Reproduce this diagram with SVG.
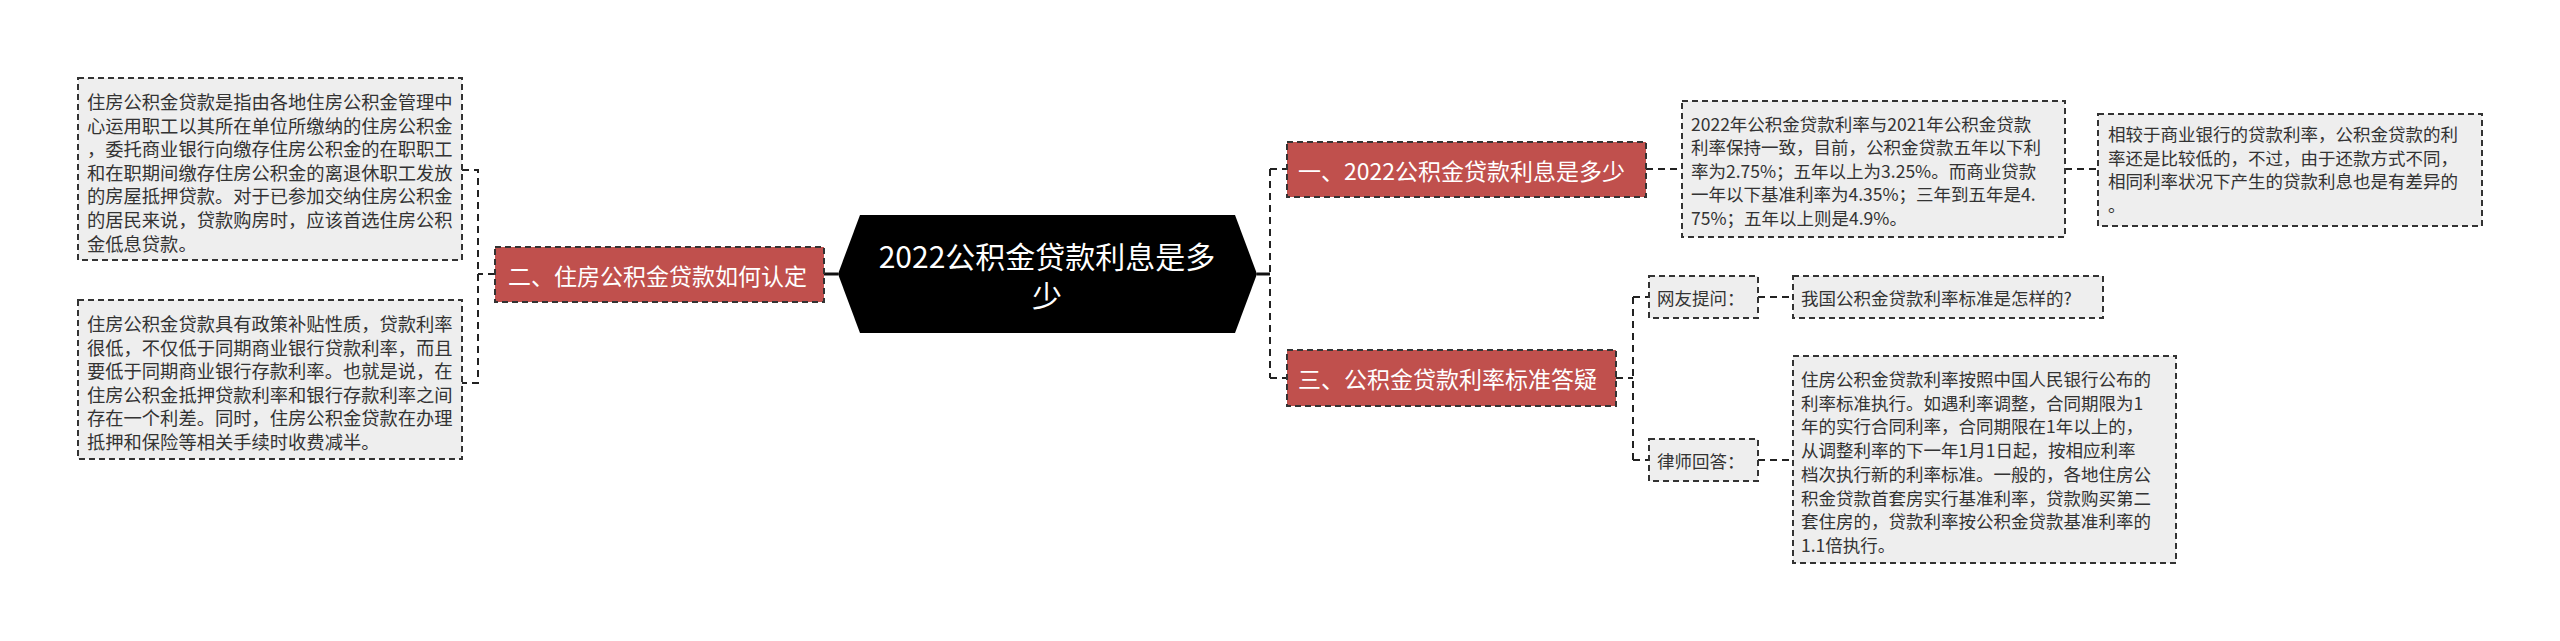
<svg xmlns="http://www.w3.org/2000/svg" width="2560" height="641" viewBox="0 0 2560 641">
<style>
text{font-family:"Noto Sans CJK SC","Noto Sans",sans-serif;}
.box{fill:#eeeeee;stroke:#333;stroke-width:2;stroke-dasharray:6 4;}
.red{fill:#c0504d;stroke:#333;stroke-width:2;stroke-dasharray:6 4;}
.rt{fill:#fff;font-size:23px;dominant-baseline:central;}
.t20{fill:#333;font-size:18.3px;dominant-baseline:central;}
.t18{fill:#333;font-size:17.5px;dominant-baseline:central;}
.c{fill:none;stroke:#222;stroke-width:2;stroke-dasharray:7 5;}
.s{fill:none;stroke:#111;stroke-width:3;}
</style>
<rect width="2560" height="641" fill="#fff"/>
<g id="connectors">
<path class="s" d="M838 274 H824"/>
<path class="c" d="M495 274 H478 M462 170 H478 V383 H462"/>
<path class="s" d="M1257 274 H1270"/>
<path class="c" d="M1270 169 V378 M1270 169 H1287 M1270 378 H1287"/>
<path class="c" d="M1646 169 H1682 M2065 169 H2098"/>
<path class="c" d="M1616 378 H1633 M1633 297 V460 M1633 297 H1649 M1633 460 H1649"/>
<path class="c" d="M1758 297 H1793 M1758 460 H1793"/>
</g>
<g id="center">
<polygon points="838,274 860,215 1235,215 1257,274 1235,333 860,333" fill="#000"/>
<text x="1047" y="255" text-anchor="middle" fill="#fff" font-size="30" dominant-baseline="central">2022公积金贷款利息是多</text>
<text x="1047" y="294" text-anchor="middle" fill="#fff" font-size="30" dominant-baseline="central">少</text>
</g>
<g id="n2">
<rect class="red" x="495" y="247" width="329" height="55"/>
<text class="rt" x="508" y="275">二、住房公积金贷款如何认定</text>
</g>
<g id="n2a">
<rect class="box" x="78" y="78" width="384" height="182"/>
<text class="t20" x="87"><tspan x="87" y="101">住房公积金贷款是指由各地住房公积金管理中</tspan><tspan x="87" y="124.6">心运用职工以其所在单位所缴纳的住房公积金</tspan><tspan x="87" y="148.2">，委托商业银行向缴存住房公积金的在职职工</tspan><tspan x="87" y="171.8">和在职期间缴存住房公积金的离退休职工发放</tspan><tspan x="87" y="195.4">的房屋抵押贷款。对于已参加交纳住房公积金</tspan><tspan x="87" y="219">的居民来说，贷款购房时，应该首选住房公积</tspan><tspan x="87" y="242.6">金低息贷款。</tspan></text>
</g>
<g id="n2b">
<rect class="box" x="78" y="300" width="384" height="159"/>
<text class="t20" x="87"><tspan x="87" y="323">住房公积金贷款具有政策补贴性质，贷款利率</tspan><tspan x="87" y="346.6">很低，不仅低于同期商业银行贷款利率，而且</tspan><tspan x="87" y="370.2">要低于同期商业银行存款利率。也就是说，在</tspan><tspan x="87" y="393.8">住房公积金抵押贷款利率和银行存款利率之间</tspan><tspan x="87" y="417.4">存在一个利差。同时，住房公积金贷款在办理</tspan><tspan x="87" y="441">抵押和保险等相关手续时收费减半。</tspan></text>
</g>
<g id="n1">
<rect class="red" x="1287" y="142" width="359" height="55"/>
<text class="rt" x="1298" y="170">一、2022公积金贷款利息是多少</text>
</g>
<g id="n1a">
<rect class="box" x="1682" y="101" width="383" height="136"/>
<text class="t18" x="1691"><tspan x="1691" y="122.5">2022年公积金贷款利率与2021年公积金贷款</tspan><tspan x="1691" y="146">利率保持一致，目前，公积金贷款五年以下利</tspan><tspan x="1691" y="169.5">率为2.75%；五年以上为3.25%。而商业贷款</tspan><tspan x="1691" y="193">一年以下基准利率为4.35%；三年到五年是4.</tspan><tspan x="1691" y="216.5">75%；五年以上则是4.9%。</tspan></text>
</g>
<g id="n1b">
<rect class="box" x="2098" y="114" width="384" height="112"/>
<text class="t18" x="2108"><tspan x="2108" y="133">相较于商业银行的贷款利率，公积金贷款的利</tspan><tspan x="2108" y="156.5">率还是比较低的，不过，由于还款方式不同，</tspan><tspan x="2108" y="180">相同利率状况下产生的贷款利息也是有差异的</tspan><tspan x="2108" y="203.5">。</tspan></text>
</g>
<g id="n3">
<rect class="red" x="1287" y="350" width="329" height="56"/>
<text class="rt" x="1298" y="378">三、公积金贷款利率标准答疑</text>
</g>
<g id="q">
<rect class="box" x="1649" y="276" width="109" height="42"/>
<text class="t18" x="1657" y="297">网友提问：</text>
</g>
<g id="qa">
<rect class="box" x="1793" y="276" width="310" height="42"/>
<text class="t18" x="1801" y="297">我国公积金贷款利率标准是怎样的?</text>
</g>
<g id="a">
<rect class="box" x="1649" y="439" width="109" height="42"/>
<text class="t18" x="1657" y="460">律师回答：</text>
</g>
<g id="aa">
<rect class="box" x="1793" y="356" width="383" height="207"/>
<text class="t18" x="1801"><tspan x="1801" y="378">住房公积金贷款利率按照中国人民银行公布的</tspan><tspan x="1801" y="401.7">利率标准执行。如遇利率调整，合同期限为1</tspan><tspan x="1801" y="425.4">年的实行合同利率，合同期限在1年以上的，</tspan><tspan x="1801" y="449.1">从调整利率的下一年1月1日起，按相应利率</tspan><tspan x="1801" y="472.8">档次执行新的利率标准。一般的，各地住房公</tspan><tspan x="1801" y="496.5">积金贷款首套房实行基准利率，贷款购买第二</tspan><tspan x="1801" y="520.2">套住房的，贷款利率按公积金贷款基准利率的</tspan><tspan x="1801" y="543.9">1.1倍执行。</tspan></text>
</g>
</svg>
